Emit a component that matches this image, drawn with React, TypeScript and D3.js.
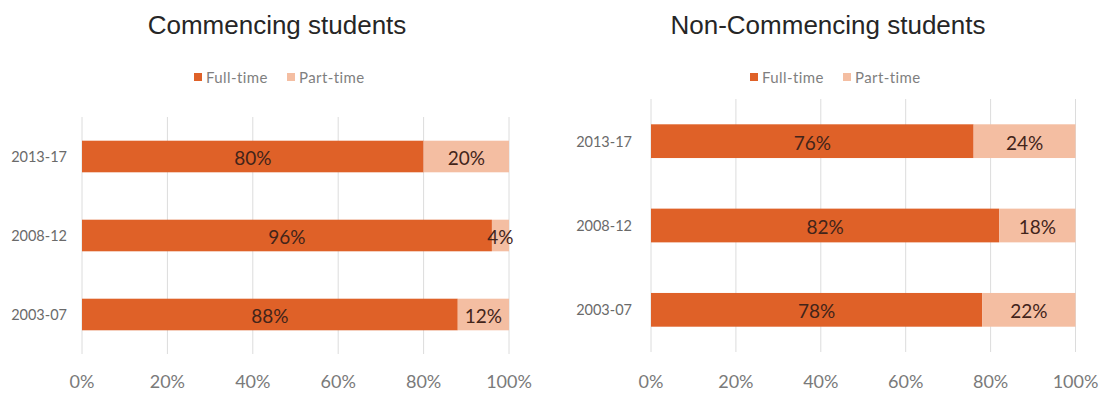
import React from "react";
import * as d3 from "d3";

const categories = ["2013-17", "2008-12", "2003-07"];
const commencingFullTime = [80, 96, 88];
const commencingPartTime = [20, 4, 12];
const nonCommencingFullTime = [76, 82, 78];
const nonCommencingPartTime = [24, 18, 22];
const tickValues = [0, 20, 40, 60, 80, 100];
const seriesNames = ["Full-time", "Part-time"];
const panelTitles = ["Commencing students", "Non-Commencing students"];

const COLORS = ["#DF6128", "#F4BEA2"];
const FONT = "Lato, 'Open Sans', sans-serif";

type PanelProps = {
  title: string;
  full: number[];
  part: number[];
  x0: number;
  x1: number;
  yTop: number;
  yBottom: number;
  titleX: number;
  legendX: number;
  catRight: number;
};

function Panel(p: PanelProps) {
  const x = d3.scaleLinear().domain([0, 100]).range([p.x0, p.x1]);
  const y = d3
    .scaleBand<string>()
    .domain(categories)
    .range([p.yTop, p.yBottom])
    .paddingInner(0.6)
    .paddingOuter(0.3);
  const stack = d3.stack<any>().keys(["full", "part"]);
  const rows = categories.map((c, i) => ({ cat: c, full: p.full[i], part: p.part[i] }));
  const layers = stack(rows);
  const bw = y.bandwidth();
  return (
    <g>
      <text x={p.titleX} y={34} textAnchor="middle" fontFamily="'Liberation Sans', Arial, sans-serif" fontSize={26} fill="#262626">
        {p.title}
      </text>
      {seriesNames.map((s, i) => (
        <g key={s} transform={`translate(${p.legendX + i * 93},0)`}>
          <rect x={0} y={73} width={8} height={8} fill={COLORS[i]} />
          <text x={12} y={77} dominantBaseline="central" fontFamily={FONT} fontSize={15} letterSpacing={0.4} fill="#7f7f7f">
            {s}
          </text>
        </g>
      ))}
      {tickValues.map((t) => (
        <g key={t}>
          <line x1={x(t)} x2={x(t)} y1={p.yTop} y2={p.yBottom} stroke="#dcdcdc" strokeWidth={1} />
          <text x={x(t)} y={381} textAnchor="middle" dominantBaseline="central" fontFamily={FONT} fontSize={18} fill="#7a7a7a">
            {t + "%"}
          </text>
        </g>
      ))}
      {categories.map((c) => (
        <text key={c} x={p.catRight} y={(y(c) as number) + bw / 2} textAnchor="end" dominantBaseline="central" fontFamily={FONT} fontSize={14.5} fill="#6a6a6a">
          {c}
        </text>
      ))}
      {layers.map((layer, li) =>
        layer.map((d, i) => {
          const cat = categories[i];
          const xa = x(d[0]);
          const xb = x(d[1]);
          const yy = y(cat) as number;
          return (
            <g key={li + "-" + cat}>
              <rect x={xa} y={yy} width={xb - xa} height={bw} fill={COLORS[li]} />
              <text x={(xa + xb) / 2} y={yy + bw / 2 + 1} textAnchor="middle" dominantBaseline="central" fontFamily={FONT} fontSize={19} fill="#42241a">
                {d[1] - d[0] + "%"}
              </text>
            </g>
          );
        })
      )}
    </g>
  );
}

export default function App() {
  return (
    <svg width={1109} height={394} style={{ position: "absolute", left: 0, top: 0, background: "#fff" }}>
      <rect width={1109} height={394} fill="#fff" />
      <Panel title={panelTitles[0]} full={commencingFullTime} part={commencingPartTime} x0={82} x1={509} yTop={117} yBottom={354} titleX={277} legendX={194} catRight={67} />
      <Panel title={panelTitles[1]} full={nonCommencingFullTime} part={nonCommencingPartTime} x0={651} x1={1075.5} yTop={99} yBottom={352} titleX={828} legendX={750} catRight={632} />
    </svg>
  );
}
